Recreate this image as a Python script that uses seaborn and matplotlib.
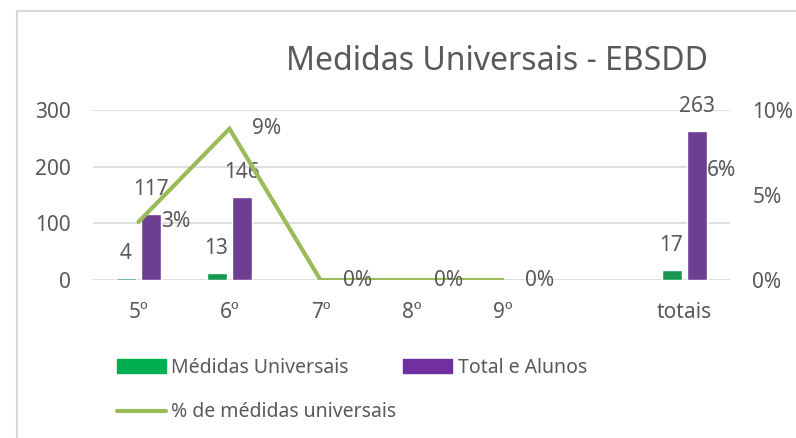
import numpy as np
import pandas as pd
import matplotlib
matplotlib.use('Agg')
import matplotlib.pyplot as plt
from matplotlib.patches import Rectangle, Patch
from matplotlib.lines import Line2D
import seaborn as sns

# Chart data
categorias = ['5º', '6º', '7º', '8º', '9º', '', 'totais']
medidas = [4, 13, np.nan, np.nan, np.nan, np.nan, 17]
total_alunos = [117, 146, np.nan, np.nan, np.nan, np.nan, 263]
percentagem = [0.0342, 0.0890, 0.0, 0.0, 0.0, np.nan, 0.0646]

nome_medidas = 'Médidas Universais'
nome_total = 'Total e Alunos'
nome_pct = '% de médidas universais'

verde = '#00B050'
roxo = '#7030A0'
verde_linha = '#9BBB59'
cinza_txt = '#595959'
cinza_grid = '#D9D9D9'

sns.set_theme(style='white')
plt.rcParams['font.family'] = ['Noto Sans', 'DejaVu Sans']

df = pd.DataFrame({
    'categoria': categorias * 2,
    'valor': medidas + total_alunos,
    'serie': [nome_medidas] * len(categorias) + [nome_total] * len(categorias),
}).dropna()

W, H = 796, 438
fig = plt.figure(figsize=(W / 100, H / 100), dpi=100)
ax = fig.add_axes([93 / W, (H - 280) / H, (730 - 93) / W, 170 / H])

sns.barplot(data=df, x='categoria', y='valor', hue='serie', order=categorias,
            hue_order=[nome_medidas, nome_total], palette=[verde, roxo],
            width=0.57, gap=0.23, legend=False, ax=ax, zorder=2)

ax.set_xlim(-0.5, len(categorias) - 0.5)
ax.set_ylim(0, 300)
ax.set_yticks([0, 100, 200, 300])
ax.yaxis.grid(True, color=cinza_grid, lw=1.2, zorder=0)
ax.set_axisbelow(True)
for s in ax.spines.values():
    s.set_visible(False)
ax.set_xlabel('')
ax.set_ylabel('')
ax.tick_params(axis='both', length=0, labelsize=15, colors=cinza_txt)
ax.tick_params(axis='y', pad=16)
ax.tick_params(axis='x', pad=16)

for cont in ax.containers:
    ax.bar_label(cont, fmt='%d', padding=10, fontsize=15, color=cinza_txt)

# percentage line on secondary axis
ax2 = ax.twinx()
x_pos = np.arange(len(categorias))
ax2.plot(x_pos, percentagem, color=verde_linha, lw=3.0, solid_capstyle='round',
         solid_joinstyle='miter')
ax2.set_ylim(0, 0.10)
ax2.set_yticks([0, 0.05, 0.10])
ax2.set_yticklabels(['0%', '5%', '10%'])
ax2.tick_params(axis='y', length=0, labelsize=15, colors=cinza_txt, pad=16)
for s in ax2.spines.values():
    s.set_visible(False)
for x, v in zip(x_pos, percentagem):
    if not np.isnan(v):
        ax2.annotate(f'{v * 100:.0f}%', (x, v), xytext=(27, 0), textcoords='offset points',
                     ha='center', va='center', fontsize=15, color=cinza_txt)

fig.text(497 / W, 1 - 62 / H, 'Medidas Universais - EBSDD', ha='center', va='center',
         fontsize=23, color=cinza_txt)

handles = [Patch(color=verde), Line2D([], [], color=verde_linha, lw=3.0, solid_capstyle='round'),
           Patch(color=roxo)]
labels = [nome_medidas, nome_pct, nome_total]
fig.legend(handles, labels, ncol=2, loc='upper left', bbox_to_anchor=(117 / W, 1 - 358 / H),
           frameon=False, fontsize=14, labelcolor=cinza_txt, handlelength=2.5,
           handleheight=0.7, handletextpad=0.3, columnspacing=0.35, labelspacing=1.25,
           borderpad=0, borderaxespad=0)

fig.patches.append(Rectangle((17 / W, -0.1), 1.2, 1.1 - 11 / H, transform=fig.transFigure,
                             fill=False, edgecolor=cinza_grid, lw=1.5))

fig.savefig('out.png', dpi=100)
